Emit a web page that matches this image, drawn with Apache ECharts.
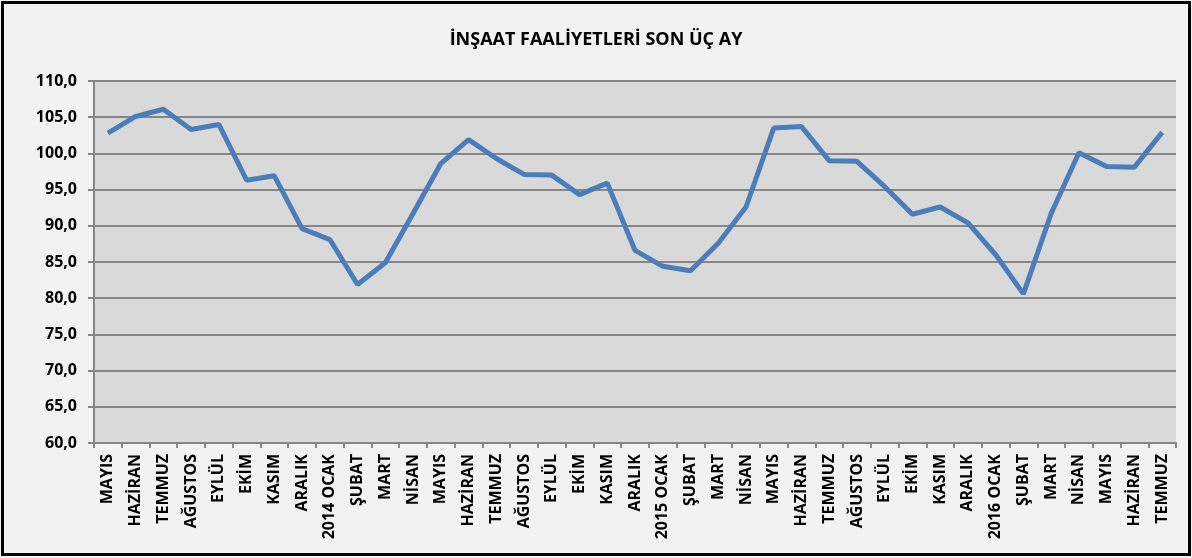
<!DOCTYPE html>
<html lang="tr">
<head>
    <meta charset="UTF-8">
    <title>İnşaat Faaliyetleri Son Üç Ay</title>
    <script src="https://cdn.jsdelivr.net/npm/echarts@6/dist/echarts.min.js"></script>
    <style>
        html, body { margin: 0; padding: 0; background: #f2f2f2; }
        #chart { width: 1192px; height: 558px; }
    </style>
</head>
<body>
    <div id="chart"></div>

    <script>
        // month labels (May 2013 .. July 2016)
        var months = [
            'MAYIS', 'HAZİRAN', 'TEMMUZ', 'AĞUSTOS', 'EYLÜL', 'EKİM', 'KASIM', 'ARALIK',
            '2014 OCAK', 'ŞUBAT', 'MART', 'NİSAN', 'MAYIS', 'HAZİRAN', 'TEMMUZ', 'AĞUSTOS',
            'EYLÜL', 'EKİM', 'KASIM', 'ARALIK', '2015 OCAK', 'ŞUBAT', 'MART', 'NİSAN',
            'MAYIS', 'HAZİRAN', 'TEMMUZ', 'AĞUSTOS', 'EYLÜL', 'EKİM', 'KASIM', 'ARALIK',
            '2016 OCAK', 'ŞUBAT', 'MART', 'NİSAN', 'MAYIS', 'HAZİRAN', 'TEMMUZ'
        ];

        // index values
        var values = [
            102.8, 105.1, 106.1, 103.3, 104.0, 96.3, 96.9, 89.6,
            88.1, 81.9, 84.9, 91.7, 98.6, 101.9, 99.3, 97.1,
            97.0, 94.3, 95.9, 86.6, 84.4, 83.8, 87.6, 92.6,
            103.5, 103.7, 99.0, 98.9, 95.4, 91.6, 92.6, 90.4,
            86.0, 80.6, 91.7, 100.1, 98.2, 98.1, 102.9
        ];

        var yMin = 60, yMax = 110, yStep = 5;

        var chart = echarts.init(document.getElementById('chart'));

        var font = '"Open Sans", "Noto Sans", sans-serif';

        var option = {
            backgroundColor: '#f2f2f2',
            animation: false,
            title: {
                text: 'İNŞAAT FAALİYETLERİ SON ÜÇ AY',
                left: 'center',
                top: 26,
                textStyle: { fontFamily: font, fontWeight: 'bold', fontSize: 18, color: '#000' }
            },
            graphic: [{
                type: 'rect',
                shape: { x: 2.5, y: 2.5, width: 1187, height: 552 },
                style: { fill: 'none', stroke: '#000', lineWidth: 3 },
                silent: true
            }],
            grid: {
                left: 94, right: 16, top: 81, bottom: 115,
                show: true,
                backgroundColor: '#d9d9d9',
                borderWidth: 0
            },
            xAxis: {
                type: 'category',
                data: months,
                boundaryGap: true,
                axisLine: { lineStyle: { color: '#868686', width: 2 } },
                axisTick: { show: true, length: 5, lineStyle: { color: '#868686', width: 2 } },
                axisLabel: {
                    interval: 0,
                    rotate: 90,
                    margin: 11,
                    fontFamily: font,
                    fontWeight: 'bold',
                    fontSize: 16,
                    color: '#000'
                }
            },
            yAxis: {
                type: 'value',
                min: yMin,
                max: yMax,
                interval: yStep,
                axisLine: { show: true, lineStyle: { color: '#868686', width: 2 } },
                axisTick: { show: true, length: 6, lineStyle: { color: '#868686', width: 2 } },
                splitLine: { lineStyle: { color: '#868686', width: 2 } },
                axisLabel: {
                    margin: 17,
                    fontFamily: font,
                    fontWeight: 'bold',
                    fontSize: 16,
                    color: '#000',
                    formatter: function (v) { return v.toFixed(1).replace('.', ','); }
                }
            },
            series: [{
                type: 'line',
                data: values,
                symbol: 'none',
                lineStyle: { color: '#4a7ebb', width: 5 }
            }]
        };

        chart.setOption(option);
    </script>
</body>
</html>
